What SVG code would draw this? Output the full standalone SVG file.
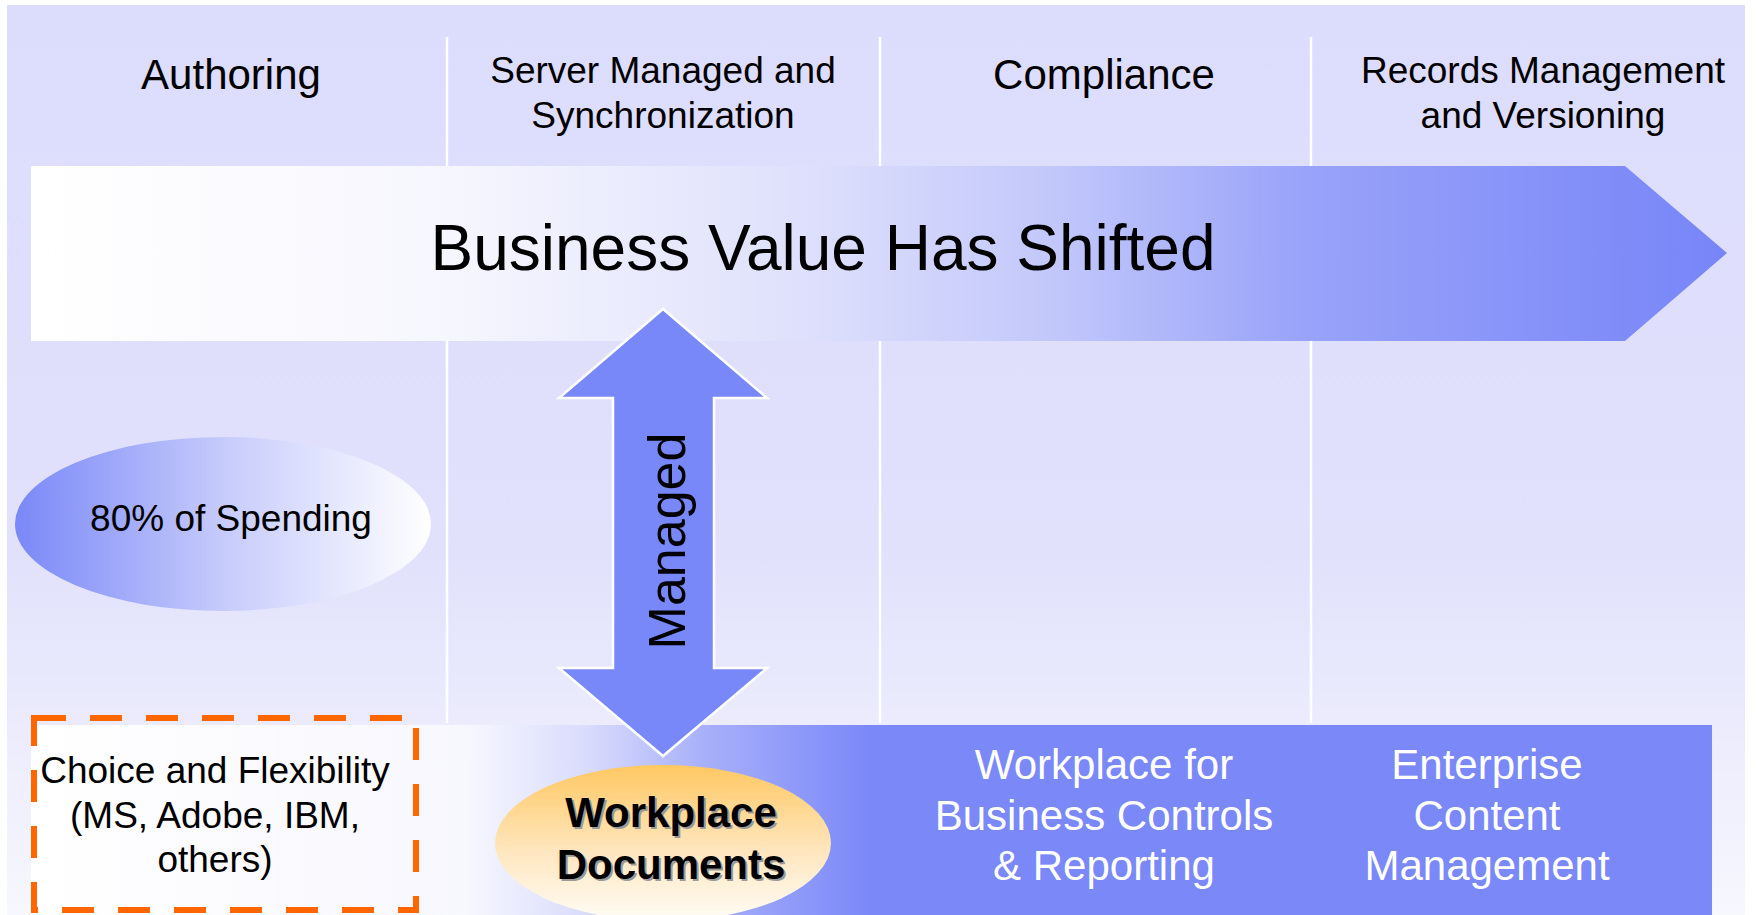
<svg xmlns="http://www.w3.org/2000/svg" width="1757" height="915" viewBox="0 0 1757 915">
<defs>
<linearGradient id="bgGrad" x1="0" y1="0" x2="0" y2="1">
<stop offset="0" stop-color="#DCDCFD"/>
<stop offset="0.6" stop-color="#E1E1FC"/>
<stop offset="1" stop-color="#F7F7FE"/>
</linearGradient>
<linearGradient id="bigArrowGrad" x1="31" y1="0" x2="1727" y2="0" gradientUnits="userSpaceOnUse">
<stop offset="0" stop-color="#FFFFFF"/>
<stop offset="0.25" stop-color="#F6F6FE"/>
<stop offset="0.45" stop-color="#DFE1FC"/>
<stop offset="0.6" stop-color="#C3C8FB"/>
<stop offset="0.75" stop-color="#99A3F9"/>
<stop offset="1" stop-color="#7785F8"/>
</linearGradient>
<linearGradient id="ellGrad" x1="0" y1="0" x2="1" y2="0">
<stop offset="0" stop-color="#7A88F8"/>
<stop offset="0.5" stop-color="#C6CBFB"/>
<stop offset="1" stop-color="#FFFFFF"/>
</linearGradient>
<linearGradient id="bandGrad" x1="31" y1="0" x2="1712" y2="0" gradientUnits="userSpaceOnUse">
<stop offset="0" stop-color="#FFFFFF"/>
<stop offset="0.26" stop-color="#F7F7FE"/>
<stop offset="0.33" stop-color="#D9DCFC"/>
<stop offset="0.4" stop-color="#A8B0FA"/>
<stop offset="0.5" stop-color="#7A88F8"/>
<stop offset="1" stop-color="#7A88F8"/>
</linearGradient>
<linearGradient id="wdGrad" x1="0" y1="0" x2="0" y2="1">
<stop offset="0" stop-color="#FFC862"/>
<stop offset="0.55" stop-color="#FFE6BE"/>
<stop offset="1" stop-color="#FFFCF6"/>
</linearGradient>
</defs>
<style>
.hdr{font-family:"Liberation Sans",Arial,sans-serif;fill:#000;text-anchor:middle}
.h42{font-size:42px}
.h37{font-size:37px}
.wt{font-family:"Liberation Sans",Arial,sans-serif;font-size:42px;fill:#FFFFFF;text-anchor:middle}
.bold{font-family:"Liberation Sans",Arial,sans-serif;font-size:42px;font-weight:bold;text-anchor:middle}
.div{stroke:#FFFFFF;stroke-width:2.5}
</style>
<rect x="0" y="0" width="1757" height="915" fill="#FFFFFF"/>
<rect x="7" y="5" width="1738" height="910" fill="url(#bgGrad)"/>
<g id="dividers">
<line class="div" x1="447" y1="37" x2="447" y2="723"/>
<line class="div" x1="880" y1="37" x2="880" y2="723"/>
<line class="div" x1="1311" y1="37" x2="1311" y2="723"/>
</g>
<g id="headers">
<text class="hdr h42" x="231" y="89">Authoring</text>
<text class="hdr h37" x="663" y="83">Server Managed and</text>
<text class="hdr h37" x="663" y="128">Synchronization</text>
<text class="hdr h42" x="1104" y="89">Compliance</text>
<text class="hdr h37" x="1543" y="83">Records Management</text>
<text class="hdr h37" x="1543" y="128">and Versioning</text>
</g>
<g id="bigArrow">
<polygon points="31,166 1625,166 1727,253 1625,341 31,341" fill="url(#bigArrowGrad)"/>
<text class="hdr" style="font-size:64px" x="823" y="270">Business Value Has Shifted</text>
</g>
<g id="spending">
<ellipse cx="223" cy="524" rx="208" ry="87" fill="url(#ellGrad)"/>
<text class="hdr h37" x="231" y="531">80% of Spending</text>
</g>
<g id="band">
<rect x="31" y="725" width="1681" height="190" fill="url(#bandGrad)"/>
</g>
<g id="choice">
<rect x="34" y="718" width="382" height="192" fill="none" stroke="#FF6600" stroke-width="6" stroke-dasharray="32 24"/>
<text class="hdr h37" x="215" y="783">Choice and Flexibility</text>
<text class="hdr h37" x="215" y="828">(MS, Adobe, IBM,</text>
<text class="hdr h37" x="215" y="872">others)</text>
</g>
<g id="workplaceDocs">
<ellipse cx="663" cy="843" rx="168" ry="78" fill="url(#wdGrad)"/>
<text class="bold" x="673" y="829" fill="#9A9A9A">Workplace</text>
<text class="bold" x="673" y="881" fill="#9A9A9A">Documents</text>
<text class="bold" x="671" y="827" fill="#000">Workplace</text>
<text class="bold" x="671" y="879" fill="#000">Documents</text>
</g>
<g id="controls">
<text class="wt" x="1104" y="779">Workplace for</text>
<text class="wt" x="1104" y="830">Business Controls</text>
<text class="wt" x="1104" y="880">&amp; Reporting</text>
</g>
<g id="ecm">
<text class="wt" x="1487" y="779">Enterprise</text>
<text class="wt" x="1487" y="830">Content</text>
<text class="wt" x="1487" y="880">Management</text>
</g>
<g id="connectors">
<g id="managedArrow">
<polygon points="663,309 767,398 714,398 714,668 767,668 663,756 559,668 613,668 613,398 559,398" fill="#7888F8" stroke="#FFFFFF" stroke-width="2.5" stroke-linejoin="miter"/>
<text class="hdr" style="font-size:52px" transform="translate(685,541) rotate(-90)" x="0" y="0">Managed</text>
</g>
</g>
</svg>
